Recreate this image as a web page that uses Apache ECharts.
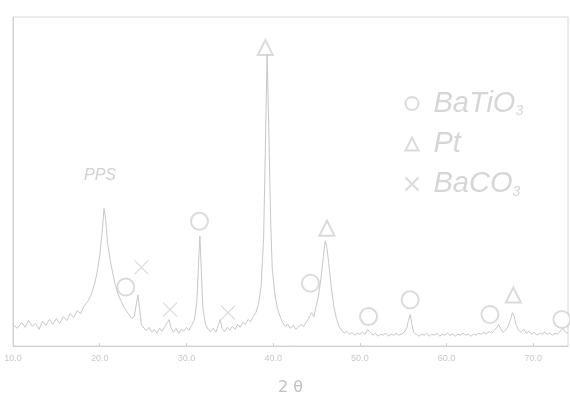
<!DOCTYPE html>
<html>
<head>
<meta charset="utf-8">
<script src="https://cdn.jsdelivr.net/npm/echarts@6/dist/echarts.min.js"></script>
<style>
  html, body { margin: 0; padding: 0; background: #fff; }
  #chart { width: 570px; height: 401px; }
</style>
</head>
<body>
<div id="chart"></div>
<script>
// XRD pattern: [2theta, intensity (arb.)]
const pattern = [
  [10.0, 22], [10.5, 18], [11.0, 24], [11.4, 19], [11.8, 26], [12.2, 20], [12.6, 23], [13.0, 17],
  [13.4, 25], [13.8, 21], [14.2, 27], [14.6, 22], [15.0, 28], [15.4, 23], [15.8, 30], [16.2, 26],
  [16.6, 33], [17.0, 29], [17.4, 36], [17.8, 33], [18.2, 41], [18.6, 45], [19.0, 52], [19.4, 63],
  [19.7, 75], [20.0, 92], [20.3, 118], [20.5, 140], [20.7, 128], [20.9, 105], [21.2, 88], [21.5, 74],
  [21.8, 62], [22.1, 53], [22.5, 45], [22.9, 38], [23.3, 33], [23.7, 28], [24.0, 30], [24.2, 42],
  [24.4, 52], [24.6, 38], [24.8, 22], [25.1, 18], [25.4, 16], [25.7, 19], [26.0, 14], [26.3, 17],
  [26.6, 13], [26.9, 18], [27.2, 15], [27.5, 20], [27.8, 24], [28.0, 27], [28.2, 19], [28.5, 14],
  [28.8, 18], [29.1, 13], [29.4, 17], [29.7, 15], [30.0, 19], [30.3, 16], [30.6, 21], [30.9, 26],
  [31.2, 45], [31.4, 85], [31.55, 112], [31.7, 80], [31.9, 38], [32.2, 22], [32.5, 17], [32.8, 15],
  [33.1, 18], [33.4, 14], [33.7, 22], [33.9, 27], [34.1, 18], [34.4, 15], [34.7, 19], [35.0, 16],
  [35.3, 20], [35.6, 17], [35.9, 22], [36.2, 19], [36.5, 24], [36.8, 22], [37.1, 27], [37.4, 25],
  [37.7, 30], [38.0, 34], [38.3, 42], [38.6, 60], [38.9, 110], [39.1, 200], [39.3, 297], [39.5, 220],
  [39.7, 130], [39.9, 78], [40.2, 52], [40.5, 38], [40.8, 30], [41.1, 24], [41.4, 20], [41.7, 22],
  [42.0, 18], [42.3, 21], [42.6, 17], [42.9, 19], [43.2, 22], [43.5, 20], [43.8, 24], [44.1, 28],
  [44.4, 34], [44.7, 30], [44.9, 38], [45.2, 50], [45.5, 68], [45.8, 92], [46.0, 107], [46.2, 100],
  [46.4, 85], [46.7, 60], [47.0, 40], [47.3, 28], [47.6, 20], [47.9, 16], [48.2, 13], [48.5, 15],
  [48.8, 12], [49.1, 14], [49.4, 11], [49.7, 13], [50.0, 12], [50.3, 14], [50.6, 12], [50.9, 17],
  [51.2, 14], [51.5, 11], [51.8, 13], [52.1, 10], [52.4, 12], [52.7, 11], [53.0, 13], [53.3, 10],
  [53.6, 12], [53.9, 11], [54.2, 13], [54.5, 11], [54.8, 12], [55.1, 14], [55.4, 18], [55.6, 26],
  [55.8, 32], [56.0, 22], [56.2, 14], [56.5, 12], [56.8, 10], [57.1, 12], [57.4, 11], [57.7, 13],
  [58.0, 10], [58.3, 12], [58.6, 11], [58.9, 13], [59.2, 10], [59.5, 12], [59.8, 11], [60.1, 13],
  [60.4, 11], [60.7, 12], [61.0, 10], [61.3, 12], [61.6, 11], [61.9, 13], [62.2, 11], [62.5, 12],
  [62.8, 10], [63.1, 12], [63.4, 11], [63.7, 13], [64.0, 12], [64.3, 14], [64.6, 12], [64.9, 15],
  [65.2, 13], [65.5, 16], [65.8, 19], [66.0, 22], [66.2, 18], [66.5, 14], [66.8, 16], [67.1, 20],
  [67.4, 28], [67.6, 34], [67.8, 30], [68.0, 22], [68.3, 16], [68.6, 14], [68.9, 17], [69.2, 13],
  [69.5, 15], [69.8, 12], [70.1, 14], [70.4, 11], [70.7, 13], [71.0, 12], [71.3, 14], [71.6, 12],
  [71.9, 13], [72.2, 11], [72.5, 13], [72.8, 12], [73.1, 15], [73.4, 18], [73.7, 14], [74.0, 13]
];

// phase markers [2theta, height]
const batio3Marks = [[23.0, 60], [31.5, 127], [44.3, 64], [51.0, 30], [55.8, 47], [65.0, 32], [73.3, 27]];
const ptMarks = [[39.1, 304], [46.2, 120], [67.7, 52]];
const baco3Marks = [[24.8, 80], [28.1, 37], [34.8, 34]];

const xTicks = [10, 20, 30, 40, 50, 60, 70];

const ink = "#c8c8c8";
const markInk = "#d2d2d2";
const crossPath = "path://M0,0L10,10M10,0L0,10";

var chart = echarts.init(document.getElementById("chart"));

let option = {
  animation: false,
  backgroundColor: "#fff",
  grid: {
    left: 13,
    right: 2,
    top: 17,
    bottom: 49,
    show: true,
    borderColor: "#d8d8d8",
    borderWidth: 1,
  },
  legend: {
    orient: "vertical",
    left: 398,
    top: 84,
    itemGap: 11,
    itemWidth: 13,
    itemHeight: 13,
    data: [
      { name: "BaTiO3", icon: "emptyCircle" },
      { name: "Pt", icon: "emptyTriangle" },
      { name: "BaCO3", icon: crossPath },
    ],
    formatter: (n) => {
      if (n === "BaTiO3") return "{t|BaTiO}{s|3}";
      if (n === "BaCO3") return "{t|BaCO}{s|3}";
      return "{t|Pt}";
    },
    textStyle: {
      rich: {
        t: { fontSize: 29, fontStyle: "italic", color: "#d6d6d6", fontFamily: "Liberation Sans", padding: [0, 0, 0, 10] },
        s: { fontSize: 14, fontStyle: "italic", color: "#d6d6d6", padding: [16, 0, 0, 0], fontFamily: "Liberation Sans" },
      },
    },
  },
  xAxis: {
    type: "value",
    min: 10,
    max: 74,
    interval: 10,
    name: "2 θ",
    nameLocation: "middle",
    nameGap: 34,
    nameTextStyle: { color: "#c0c0c0", fontSize: 16, fontFamily: "DejaVu Sans" },
    axisLine: { lineStyle: { color: "#d0d0d0" } },
    axisTick: { show: true, inside: true, length: 3, lineStyle: { color: "#d0d0d0" } },
    axisLabel: {
      color: "#c8c8c8",
      fontSize: 9,
      showMaxLabel: false,
      formatter: (v) => (xTicks.indexOf(v) >= 0 ? v.toFixed(1) : ""),
    },
    splitLine: { show: false },
  },
  yAxis: {
    type: "value",
    min: 0,
    max: 335,
    axisLine: { show: true, lineStyle: { color: "#d0d0d0" } },
    axisTick: { show: false },
    axisLabel: { show: false },
    splitLine: { show: false },
  },
  graphic: [
    {
      type: "text",
      left: 84,
      top: 168,
      style: { text: "PPS", fill: "#d0d0d0", fontSize: 16, fontStyle: "italic", fontFamily: "Liberation Sans" },
    },
  ],
  series: [
    {
      name: "pattern",
      type: "line",
      data: pattern,
      showSymbol: false,
      lineStyle: { color: ink, width: 1 },
    },
    {
      name: "BaTiO3",
      type: "scatter",
      data: batio3Marks,
      symbol: "emptyCircle",
      symbolSize: 17,
      itemStyle: { color: markInk, borderColor: markInk, borderWidth: 1.2 },
    },
    {
      name: "Pt",
      type: "scatter",
      data: ptMarks,
      symbol: "emptyTriangle",
      symbolSize: 15,
      itemStyle: { color: markInk, borderColor: markInk, borderWidth: 1.2 },
    },
    {
      name: "BaCO3",
      type: "scatter",
      data: baco3Marks,
      symbol: crossPath,
      symbolSize: 14,
      itemStyle: { color: "none", borderColor: markInk, borderWidth: 1.2 },
    },
  ],
};

option && chart.setOption(option);
</script>
</body>
</html>
